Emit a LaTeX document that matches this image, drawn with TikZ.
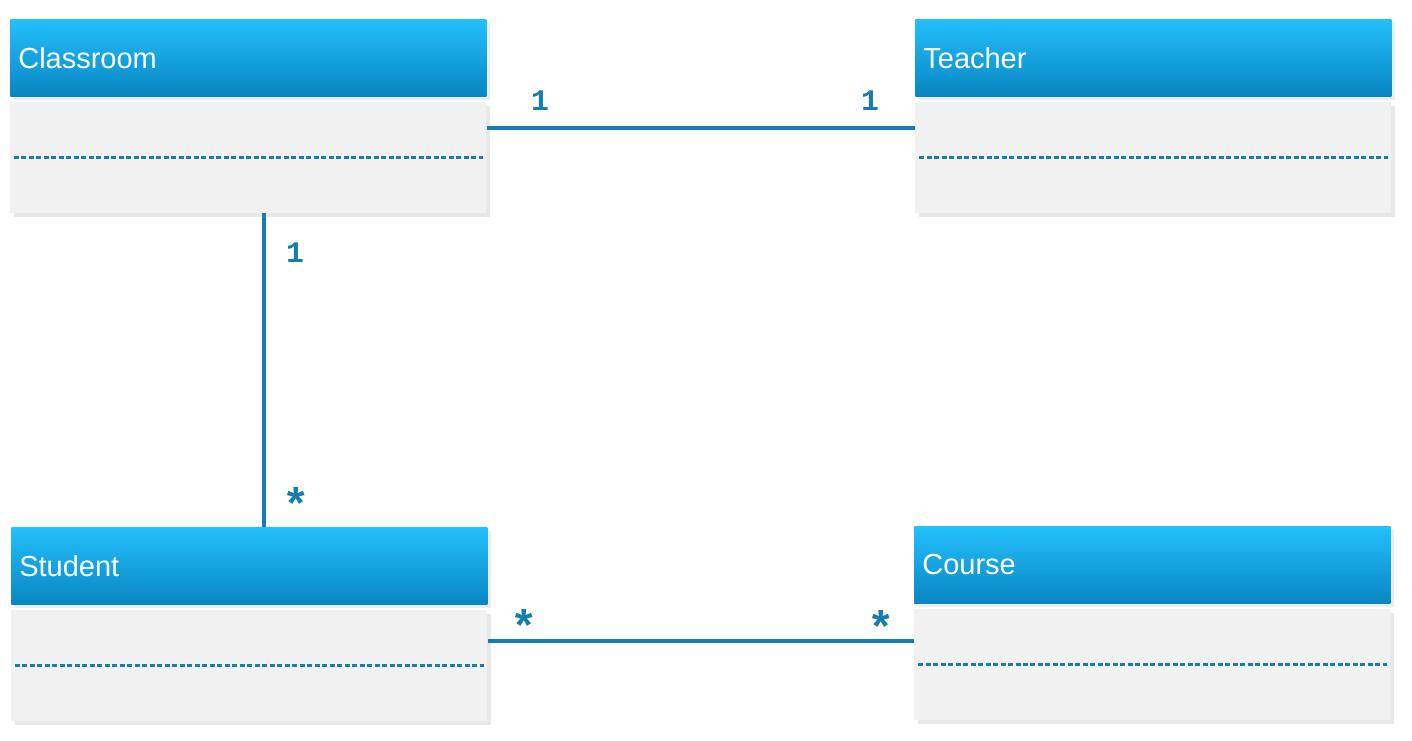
\documentclass[tikz,border=0pt]{standalone}
\usepackage{fontspec}
\setmainfont{Liberation Sans}
\newfontfamily\multfont{Liberation Mono}
\usetikzlibrary{positioning,shadows}
\definecolor{headtop}{RGB}{35,192,252}
\definecolor{headbot}{RGB}{8,134,194}
\definecolor{bodygray}{RGB}{241,241,241}
\definecolor{umlblue}{RGB}{22,125,176}
\tikzstyle{classhead}=[rectangle, top color=headtop, bottom color=headbot, text=white,
  minimum width=9.52cm, minimum height=1.54cm, text width=9.2cm, inner xsep=0.16cm,
  align=left, anchor=north west, font=\fontsize{16.5}{18}\selectfont,
  drop shadow={shadow xshift=0.07cm, shadow yshift=-0.07cm, opacity=0.15}]
\tikzstyle{classbody}=[rectangle, fill=bodygray, minimum width=9.52cm, minimum height=2.22cm,
  drop shadow={shadow xshift=0.08cm, shadow yshift=-0.08cm, opacity=0.18}]
\tikzstyle{attrline}=[umlblue, line width=0.045cm, dash pattern=on 0.1cm off 0.05cm]
\tikzstyle{assoc}=[umlblue, line width=0.07cm]
\tikzstyle{mult}=[text=umlblue, inner sep=0, font=\multfont\bfseries\fontsize{17}{18}\selectfont]
\tikzstyle{multstar}=[mult, font=\multfont\bfseries\fontsize{26}{28}\selectfont]

\begin{document}
\begin{tikzpicture}[x=0.02cm, y=-0.02cm]
        \fill[white] (0,0) rectangle (1412,740);
        \useasboundingbox (0,0) rectangle (1412,740);

        % Classes
        \foreach \name/\title/\x/\y in {classroom/Classroom/10/19, teacher/Teacher/915/19,
                                        student/Student/11/527, course/Course/914/526}
        {
          \node[classhead] (\name_h) at (\x,\y) {\title};
          \node[classbody, below=0.1cm of \name_h.south west, anchor=north west] (\name_b) {};
          \draw[attrline] ([xshift=0.08cm]\name_b.west) -- ([xshift=-0.08cm]\name_b.east);
        }

        % Classroom -> Teacher
        \coordinate (topline) at (0,128);
        \draw[assoc] (classroom_b.east |- topline) -- (teacher_b.west |- topline);

        % Classroom -> Student
        \coordinate (leftline) at (264,0);
        \draw[assoc] (classroom_b.south -| leftline) -- (student_h.north -| leftline);

        % Student -> Course
        \coordinate (botline) at (0,641);
        \draw[assoc] (student_b.east |- botline) -- (course_b.west |- botline);

        % Multiplicities
        \node[mult] (m_ct1) at (540,101) {1};
        \node[mult] (m_ct2) at (870,101) {1};
        \node[mult] (m_cs1) at (295,253) {1};
        \node[multstar] (m_cs2) at (296,504) {*};
        \node[multstar] (m_sc1) at (524,626) {*};
        \node[multstar] (m_sc2) at (881,627) {*};
\end{tikzpicture}
\end{document}
